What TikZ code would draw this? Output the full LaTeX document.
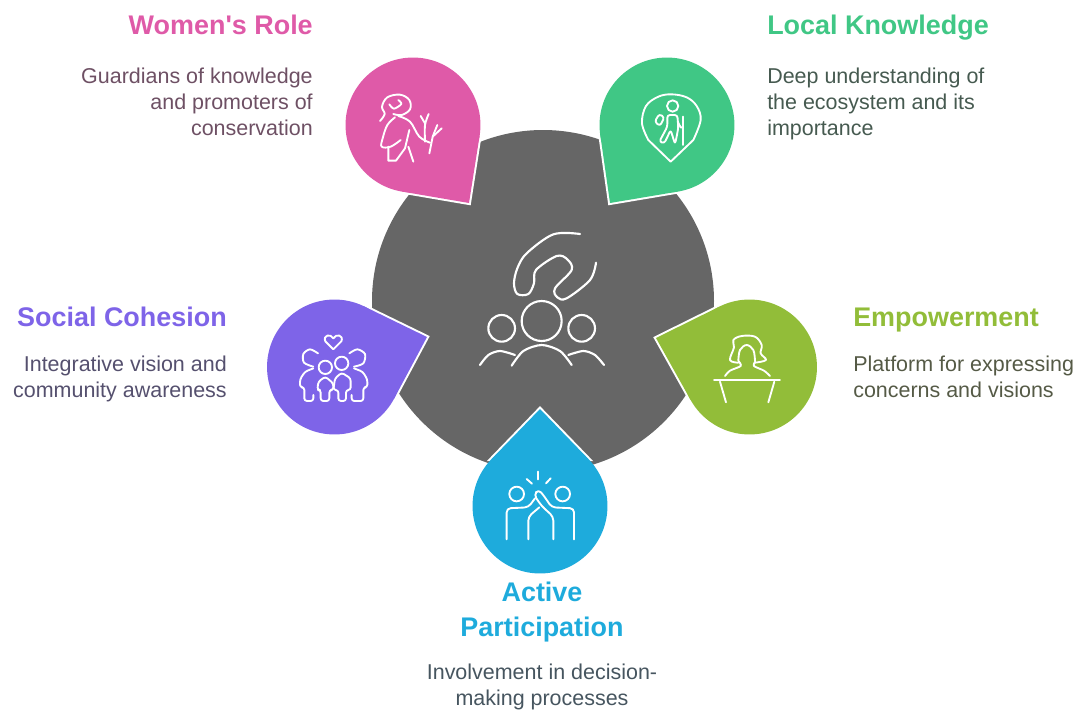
\documentclass[tikz,border=0pt]{standalone}
\usepackage{fontspec}
\setmainfont{Liberation Sans}
\usetikzlibrary{calc}
\definecolor{cgray}{HTML}{666666}
\definecolor{cpink}{HTML}{DF5AA8}
\definecolor{cgreen}{HTML}{40C785}
\definecolor{cpurple}{HTML}{7E64E8}
\definecolor{cblue}{HTML}{1EABDC}
\definecolor{clime}{HTML}{92BD39}
\tikzset{
  halo/.style={draw=white,line width=3pt,line join=miter,fill=white},
  icon/.style={draw=white,line width=1.6pt,line cap=round,line join=round},
  thinicon/.style={draw=white,line width=1.4pt,line cap=round,line join=round},
  head/.style={font=\fontsize{20.2}{25}\selectfont\bfseries,inner sep=0pt},
  bodyr/.style={font=\fontsize{16.1}{19.3}\selectfont,inner sep=0pt,align=right,anchor=north east},
  bodyl/.style={font=\fontsize{16.1}{19.3}\selectfont,inner sep=0pt,align=left,anchor=north west},
  bodyc/.style={font=\fontsize{16.1}{19.3}\selectfont,inner sep=0pt,align=center,anchor=north},
}
% #1 colour, #2 centre x, #3 centre y, #4 tip x, #5 tip y, #6 name
\newcommand{\drop}[6]{%
  \coordinate (#6c) at (#2,#3);
  \coordinate (#6t) at (#4,#5);
  \node[circle,minimum size=101.2pt,inner sep=0pt,outer sep=0pt] (#6) at (#6c) {};
  \coordinate (#6a) at (tangent cs:node=#6,point={(#6t)},solution=1);
  \coordinate (#6b) at (tangent cs:node=#6,point={(#6t)},solution=2);
  \draw[halo] (#6a) -- (#6t) -- (#6b) -- cycle;
  \fill[#1] (#6c) circle[radius=50.6pt];
  \fill[#1] (#6a) -- (#6t) -- (#6b) -- cycle;
}
\begin{document}
\begin{tikzpicture}[x=0.75pt,y=-0.75pt]
\useasboundingbox (0,0) rectangle (1083,711);
\node[circle,fill=cgray,minimum size=256.5pt,inner sep=0pt] (hub) at (543,301) {};
\drop{cpink}{413}{125}{469}{203}{dA}
\drop{cgreen}{667}{125}{610}{203}{dB}
\drop{cpurple}{334.5}{367}{427}{337}{dC}
\drop{clime}{749.5}{367}{656}{338}{dD}
\drop{cblue}{540}{506}{540}{409}{dE}

% hub icon
\begin{scope}[shift={(460,220)},x=0.25pt,y=-0.25pt]
\draw[icon] plot[smooth,tension=.55] coordinates {(360,42)(280,43)(200,100)(172,145)(162,190)(172,222)(205,222)(222,190)(228,150)(290,108)(322,118)(335,150)(285,205)(292,232)(320,235)(390,180)(408,128)};
\draw[icon] (245,303) circle[radius=60];
\draw[icon] (125,325) circle[radius=40];
\draw[icon] (365,325) circle[radius=40];
\draw[icon] plot[smooth] coordinates {(155,437)(190,393)(245,375)(300,393)(335,435)};
\draw[icon] plot[smooth] coordinates {(60,435)(85,405)(120,393)(165,405)};
\draw[icon] plot[smooth] coordinates {(325,405)(370,393)(405,405)(432,435)};
\end{scope}

% women's role icon
\begin{scope}[shift={(330,40)},x=0.25pt,y=-0.25pt]
\draw[thinicon] plot[smooth,tension=.6] coordinates {(150,243)(164,222)(156,200)(172,172)(210,164)(238,180)(240,208)(215,225)(190,222)};
\draw[thinicon] plot[smooth] coordinates {(178,193)(192,206)(214,192)(205,180)};
\draw[thinicon] plot[smooth,tension=.6] coordinates {(195,232)(172,255)(158,295)(155,320)(182,320)(212,300)};
\draw[thinicon] plot[smooth,tension=.6] coordinates {(205,228)(240,245)(268,290)(300,308)};
\draw[thinicon] (175,320) -- (175,362) -- (198,362) -- (225,325) -- (238,270);
\draw[thinicon] (235,320) -- (250,365);
\draw[thinicon] plot[smooth] coordinates {(285,305)(285,255)(296,222)};
\draw[thinicon] (272,228) -- (285,250);
\draw[thinicon] (298,340) -- (308,290) -- (322,255);
\draw[thinicon] (308,290) -- (335,265);
\end{scope}

% local knowledge icon
\begin{scope}[shift={(330,40)},x=0.25pt,y=-0.25pt]
\draw[thinicon] plot[smooth,tension=.6] coordinates {(955,300)(936,250)(948,198)(985,170)(1025,163)(1070,172)(1100,198)(1112,240)(1090,300)};
\draw[thinicon] (955,300) -- (1022,365) -- (1090,300);
\draw[thinicon] (1028,198) circle[radius=17];
\draw[thinicon,rounded corners=2pt] (974,245) -- (988,222) -- (1003,232) -- (990,258) -- cycle;
\draw[thinicon,rounded corners=2pt] (1012,225) -- (1042,225) -- (1045,262) -- (1040,290) -- (1035,312) -- (1022,270) -- (1003,310) -- (988,305) -- (1012,260) -- cycle;
\draw[thinicon] (1058,230) -- (1058,315);
\draw[thinicon] (1043,245) -- (1052,262) -- (1058,262);
\end{scope}

% social cohesion icon
\begin{scope}[shift={(250,280)},x=0.25pt,y=-0.25pt]
\draw[thinicon] (250,208) -- (226,184) .. controls (218,165) and (242,160) .. (250,175) .. controls (258,160) and (282,165) .. (274,184) -- cycle;
\draw[thinicon] plot[smooth] coordinates {(204,220)(180,208)(160,222)(162,248)(190,260)};
\draw[thinicon] plot[smooth] coordinates {(298,220)(322,208)(345,222)(340,250)(312,260)};
\draw[thinicon,rounded corners=2pt] (190,265) -- (165,275) -- (150,298) -- (150,322) -- (163,322) -- (163,363) -- (190,363) -- (190,345);
\draw[thinicon,rounded corners=2pt] (312,265) -- (338,275) -- (352,298) -- (352,322) -- (340,322) -- (340,363) -- (305,363) -- (305,345);
\draw[thinicon] (226,262) circle[radius=20];
\draw[thinicon] (275,250) circle[radius=20];
\draw[thinicon,rounded corners=2pt] (226,290) -- (205,305) -- (202,330) -- (212,330) -- (212,363) -- (238,363) -- (238,330) -- (250,330) -- (250,310) -- cycle;
\draw[thinicon,rounded corners=2pt] (275,278) -- (255,295) -- (250,330) -- (265,330) -- (265,363) -- (288,363) -- (288,330) -- (302,330) -- (302,295) -- cycle;
\end{scope}

% empowerment icon
\begin{scope}[shift={(640,290)},x=0.25pt,y=-0.25pt]
\draw[thinicon] (222,271) -- (420,271);
\draw[thinicon] (240,275) -- (258,337);
\draw[thinicon] (403,275) -- (385,337);
\draw[thinicon] plot[smooth,tension=.6] coordinates {(295,218)(270,210)(282,172)(280,150)(305,138)(345,140)(365,165)(362,190)(378,210)(345,218)};
\draw[thinicon] plot[smooth,tension=.6] coordinates {(295,212)(300,180)(320,165)(340,180)(345,212)};
\draw[thinicon] plot[smooth] coordinates {(255,258)(270,242)(302,228)(296,214)};
\draw[thinicon] plot[smooth] coordinates {(390,258)(372,242)(342,228)(346,214)};
\end{scope}

% active participation icon
\begin{scope}[shift={(460,400)},x=0.25pt,y=-0.25pt]
\draw[thinicon] (170,282) circle[radius=22];
\draw[thinicon] (308,282) circle[radius=22];
\draw[thinicon] (235,215) -- (235,238);
\draw[thinicon] (200,237) -- (216,251);
\draw[thinicon] (272,235) -- (258,250);
\draw[thinicon,rounded corners=3pt] (140,418) -- (140,325) -- (205,322) -- (225,295);
\draw[thinicon,rounded corners=3pt] (342,418) -- (342,325) -- (275,322) -- (250,285) -- (235,268) -- (222,285) -- (245,318) -- (280,350) -- (280,418);
\draw[thinicon,rounded corners=3pt] (205,418) -- (205,350) -- (238,322);
\end{scope}

% labels
\node[head,anchor=base east,text=cpink] (t1) at (313,34) {Women\textquotesingle s Role};
\node[bodyr,text={rgb,255:red,110;green,80;blue,100}] (b1) at (313,68) {Guardians of knowledge\\and promoters of\\conservation};
\node[head,anchor=base west,text=cgreen] (t2) at (767,34) {Local Knowledge};
\node[bodyl,text={rgb,255:red,70;green,90;blue,80}] (b2) at (767,68) {Deep understanding of\\the ecosystem and its\\importance};
\node[head,anchor=base east,text=cpurple] (t3) at (227,326) {Social Cohesion};
\node[bodyr,text={rgb,255:red,85;green,80;blue,110}] (b3) at (227,356) {Integrative vision and\\community awareness};
\node[head,anchor=base west,text=clime] (t4) at (853,326) {Empowerment};
\node[bodyl,text={rgb,255:red,85;green,90;blue,70}] (b4) at (853,356) {Platform for expressing\\concerns and visions};
\node[head,anchor=center,align=center,text=cblue,font=\fontsize{20.2}{26}\selectfont\bfseries] (t5) at (542,612) {Active\\Participation};
\node[bodyc,text={rgb,255:red,70;green,85;blue,95}] (b5) at (542,664) {Involvement in decision-\\making processes};
\end{tikzpicture}
\end{document}
